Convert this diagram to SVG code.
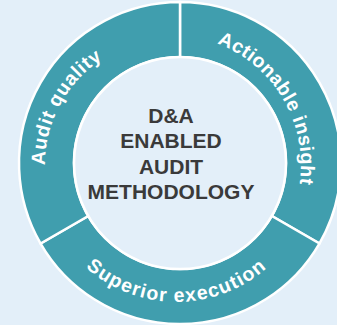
<svg xmlns="http://www.w3.org/2000/svg" width="337" height="325" viewBox="0 0 337 325">
<style>
.seg{fill:#409EAE;stroke:#FFFFFF;stroke-width:2.5;stroke-linejoin:miter}
.lbl{font-family:"Liberation Sans",Arial,sans-serif;font-weight:bold;font-size:19.5px;fill:#FFFFFF}
.ctr{font-family:"Liberation Sans",Arial,sans-serif;font-weight:bold;font-size:21px;fill:#3A3A3A;text-anchor:middle}
</style>
<defs>
<path id="pLeft" d="M63.6,231.1 A126.5,126.5 0 0 1 168.2,38.5" fill="none"/>
<path id="pRight" d="M171.0,35 A130,130 0 0 1 284.4,228.4" fill="none"/>
<path id="pBottom" d="M57.9,233.5 A137,137 0 0 0 295.1,233.5" fill="none"/>
</defs>
<rect x="0" y="0" width="337" height="325" fill="#E3EFF9"/>
<g id="actionable-insight">
<path class="seg" d="M180,2 A161,161 0 0 1 319.43,243.5 L271.8,216 A106,106 0 0 0 180,57 Z"/>
<text class="lbl" letter-spacing="0.4"><textPath href="#pRight" startOffset="50%" text-anchor="middle">Actionable insight</textPath></text>
</g>
<g id="superior-execution">
<path class="seg" d="M319.43,243.5 A161,161 0 0 1 40.57,243.5 L88.2,216 A106,106 0 0 0 271.8,216 Z"/>
<text class="lbl" letter-spacing="1.2"><textPath href="#pBottom" startOffset="50%" text-anchor="middle">Superior execution</textPath></text>
</g>
<g id="audit-quality">
<path class="seg" d="M40.57,243.5 A161,161 0 0 1 180,2 L180,57 A106,106 0 0 0 88.2,216 Z"/>
<text class="lbl" letter-spacing="0.65"><textPath href="#pLeft" startOffset="50%" text-anchor="middle">Audit quality</textPath></text>
</g>
<g id="center">
<circle cx="180" cy="163" r="106" fill="#E3EFF9" stroke="#FFFFFF" stroke-width="2.5"/>
<text class="ctr" x="171" y="123">D&amp;A</text>
<text class="ctr" x="171" y="148">ENABLED</text>
<text class="ctr" x="171" y="173.5">AUDIT</text>
<text class="ctr" x="171" y="199">METHODOLOGY</text>
</g>
</svg>
